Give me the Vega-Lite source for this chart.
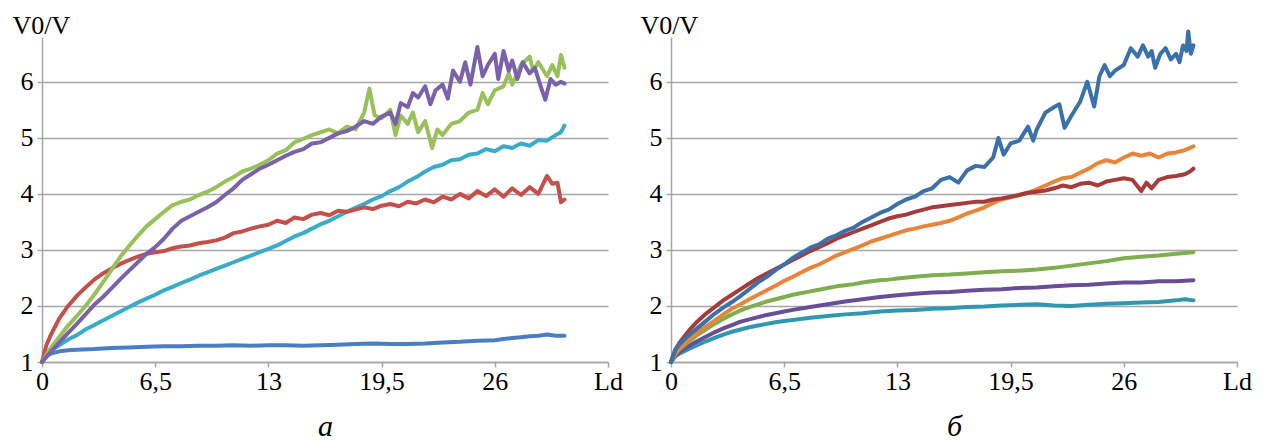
{
"$schema": "https://vega.github.io/schema/vega-lite/v6.json",
"padding": {"left": 12, "top": 12, "right": 5, "bottom": 0},
"background": "white",
"bounds": "flush",
"spacing": 63,
"data": {"values": [
{"p":"a","s":"a1","x":0,"y":1},{"p":"a","s":"a1","x":0.25,"y":1.1},{"p":"a","s":"a1","x":0.5,"y":1.15},{"p":"a","s":"a1","x":1,"y":1.19},{"p":"a","s":"a1","x":1.5,"y":1.21},{"p":"a","s":"a1","x":2,"y":1.22},{"p":"a","s":"a1","x":3,"y":1.23},{"p":"a","s":"a1","x":4,"y":1.25},{"p":"a","s":"a1","x":5,"y":1.26},{"p":"a","s":"a1","x":6,"y":1.27},{"p":"a","s":"a1","x":7,"y":1.28},{"p":"a","s":"a1","x":8,"y":1.28},{"p":"a","s":"a1","x":9,"y":1.29},{"p":"a","s":"a1","x":10,"y":1.29},{"p":"a","s":"a1","x":11,"y":1.3},{"p":"a","s":"a1","x":12,"y":1.29},{"p":"a","s":"a1","x":13,"y":1.3},{"p":"a","s":"a1","x":14,"y":1.3},{"p":"a","s":"a1","x":15,"y":1.29},{"p":"a","s":"a1","x":16,"y":1.3},{"p":"a","s":"a1","x":17,"y":1.31},{"p":"a","s":"a1","x":18,"y":1.32},{"p":"a","s":"a1","x":19,"y":1.33},{"p":"a","s":"a1","x":20,"y":1.32},{"p":"a","s":"a1","x":21,"y":1.32},{"p":"a","s":"a1","x":22,"y":1.33},{"p":"a","s":"a1","x":23,"y":1.35},{"p":"a","s":"a1","x":24,"y":1.36},{"p":"a","s":"a1","x":25,"y":1.38},{"p":"a","s":"a1","x":26,"y":1.39},{"p":"a","s":"a1","x":26.5,"y":1.41},{"p":"a","s":"a1","x":27,"y":1.43},{"p":"a","s":"a1","x":27.5,"y":1.44},{"p":"a","s":"a1","x":28,"y":1.46},{"p":"a","s":"a1","x":28.5,"y":1.47},{"p":"a","s":"a1","x":29,"y":1.49},{"p":"a","s":"a1","x":29.5,"y":1.47},{"p":"a","s":"a1","x":30,"y":1.47},

{"p":"a","s":"a5","x":0,"y":1},{"p":"a","s":"a5","x":0.25,"y":1.12},{"p":"a","s":"a5","x":0.5,"y":1.2},{"p":"a","s":"a5","x":1,"y":1.3},{"p":"a","s":"a5","x":1.5,"y":1.4},{"p":"a","s":"a5","x":2,"y":1.48},{"p":"a","s":"a5","x":2.5,"y":1.58},{"p":"a","s":"a5","x":3,"y":1.66},{"p":"a","s":"a5","x":3.5,"y":1.74},{"p":"a","s":"a5","x":4,"y":1.82},{"p":"a","s":"a5","x":4.5,"y":1.9},{"p":"a","s":"a5","x":5,"y":1.98},{"p":"a","s":"a5","x":5.5,"y":2.06},{"p":"a","s":"a5","x":6,"y":2.13},{"p":"a","s":"a5","x":6.5,"y":2.2},{"p":"a","s":"a5","x":7,"y":2.28},{"p":"a","s":"a5","x":7.5,"y":2.34},{"p":"a","s":"a5","x":8,"y":2.41},{"p":"a","s":"a5","x":8.5,"y":2.47},{"p":"a","s":"a5","x":9,"y":2.54},{"p":"a","s":"a5","x":9.5,"y":2.6},{"p":"a","s":"a5","x":10,"y":2.66},{"p":"a","s":"a5","x":10.5,"y":2.72},{"p":"a","s":"a5","x":11,"y":2.78},{"p":"a","s":"a5","x":11.5,"y":2.84},{"p":"a","s":"a5","x":12,"y":2.9},{"p":"a","s":"a5","x":12.5,"y":2.96},{"p":"a","s":"a5","x":13,"y":3.02},{"p":"a","s":"a5","x":13.5,"y":3.08},{"p":"a","s":"a5","x":14,"y":3.16},{"p":"a","s":"a5","x":14.5,"y":3.24},{"p":"a","s":"a5","x":15,"y":3.3},{"p":"a","s":"a5","x":15.5,"y":3.38},{"p":"a","s":"a5","x":16,"y":3.46},{"p":"a","s":"a5","x":16.5,"y":3.52},{"p":"a","s":"a5","x":17,"y":3.6},{"p":"a","s":"a5","x":17.5,"y":3.68},{"p":"a","s":"a5","x":18,"y":3.75},{"p":"a","s":"a5","x":18.5,"y":3.82},{"p":"a","s":"a5","x":19,"y":3.9},{"p":"a","s":"a5","x":19.5,"y":3.96},{"p":"a","s":"a5","x":20,"y":4.05},{"p":"a","s":"a5","x":20.5,"y":4.12},{"p":"a","s":"a5","x":21,"y":4.22},{"p":"a","s":"a5","x":21.5,"y":4.3},{"p":"a","s":"a5","x":22,"y":4.4},{"p":"a","s":"a5","x":22.5,"y":4.48},{"p":"a","s":"a5","x":23,"y":4.52},{"p":"a","s":"a5","x":23.5,"y":4.6},{"p":"a","s":"a5","x":24,"y":4.62},{"p":"a","s":"a5","x":24.5,"y":4.7},{"p":"a","s":"a5","x":25,"y":4.72},{"p":"a","s":"a5","x":25.5,"y":4.8},{"p":"a","s":"a5","x":26,"y":4.76},{"p":"a","s":"a5","x":26.5,"y":4.85},{"p":"a","s":"a5","x":27,"y":4.82},{"p":"a","s":"a5","x":27.5,"y":4.9},{"p":"a","s":"a5","x":28,"y":4.86},{"p":"a","s":"a5","x":28.5,"y":4.96},{"p":"a","s":"a5","x":29,"y":4.95},{"p":"a","s":"a5","x":29.5,"y":5.05},{"p":"a","s":"a5","x":29.8,"y":5.1},{"p":"a","s":"a5","x":30,"y":5.22},

{"p":"a","s":"a2","x":0,"y":1},{"p":"a","s":"a2","x":0.25,"y":1.3},{"p":"a","s":"a2","x":0.5,"y":1.48},{"p":"a","s":"a2","x":1,"y":1.78},{"p":"a","s":"a2","x":1.5,"y":2.0},{"p":"a","s":"a2","x":2,"y":2.18},{"p":"a","s":"a2","x":2.5,"y":2.33},{"p":"a","s":"a2","x":3,"y":2.47},{"p":"a","s":"a2","x":3.5,"y":2.58},{"p":"a","s":"a2","x":4,"y":2.67},{"p":"a","s":"a2","x":4.5,"y":2.75},{"p":"a","s":"a2","x":5,"y":2.82},{"p":"a","s":"a2","x":5.5,"y":2.88},{"p":"a","s":"a2","x":6,"y":2.93},{"p":"a","s":"a2","x":6.5,"y":2.96},{"p":"a","s":"a2","x":7,"y":2.98},{"p":"a","s":"a2","x":7.5,"y":3.03},{"p":"a","s":"a2","x":8,"y":3.06},{"p":"a","s":"a2","x":8.5,"y":3.08},{"p":"a","s":"a2","x":9,"y":3.12},{"p":"a","s":"a2","x":9.5,"y":3.14},{"p":"a","s":"a2","x":10,"y":3.17},{"p":"a","s":"a2","x":10.5,"y":3.22},{"p":"a","s":"a2","x":11,"y":3.3},{"p":"a","s":"a2","x":11.5,"y":3.33},{"p":"a","s":"a2","x":12,"y":3.38},{"p":"a","s":"a2","x":12.5,"y":3.42},{"p":"a","s":"a2","x":13,"y":3.45},{"p":"a","s":"a2","x":13.5,"y":3.52},{"p":"a","s":"a2","x":14,"y":3.48},{"p":"a","s":"a2","x":14.5,"y":3.58},{"p":"a","s":"a2","x":15,"y":3.55},{"p":"a","s":"a2","x":15.5,"y":3.63},{"p":"a","s":"a2","x":16,"y":3.66},{"p":"a","s":"a2","x":16.5,"y":3.62},{"p":"a","s":"a2","x":17,"y":3.7},{"p":"a","s":"a2","x":17.5,"y":3.68},{"p":"a","s":"a2","x":18,"y":3.72},{"p":"a","s":"a2","x":18.5,"y":3.76},{"p":"a","s":"a2","x":19,"y":3.73},{"p":"a","s":"a2","x":19.5,"y":3.79},{"p":"a","s":"a2","x":20,"y":3.82},{"p":"a","s":"a2","x":20.5,"y":3.78},{"p":"a","s":"a2","x":21,"y":3.86},{"p":"a","s":"a2","x":21.5,"y":3.83},{"p":"a","s":"a2","x":22,"y":3.9},{"p":"a","s":"a2","x":22.5,"y":3.85},{"p":"a","s":"a2","x":23,"y":3.95},{"p":"a","s":"a2","x":23.5,"y":3.9},{"p":"a","s":"a2","x":24,"y":4.0},{"p":"a","s":"a2","x":24.5,"y":3.92},{"p":"a","s":"a2","x":25,"y":4.05},{"p":"a","s":"a2","x":25.5,"y":3.96},{"p":"a","s":"a2","x":26,"y":4.08},{"p":"a","s":"a2","x":26.5,"y":3.95},{"p":"a","s":"a2","x":27,"y":4.1},{"p":"a","s":"a2","x":27.5,"y":3.98},{"p":"a","s":"a2","x":28,"y":4.12},{"p":"a","s":"a2","x":28.5,"y":4.0},{"p":"a","s":"a2","x":29,"y":4.32},{"p":"a","s":"a2","x":29.3,"y":4.18},{"p":"a","s":"a2","x":29.6,"y":4.2},{"p":"a","s":"a2","x":29.8,"y":3.85},{"p":"a","s":"a2","x":30,"y":3.9},

{"p":"a","s":"a3","x":0,"y":1},{"p":"a","s":"a3","x":0.5,"y":1.25},{"p":"a","s":"a3","x":1,"y":1.45},{"p":"a","s":"a3","x":1.5,"y":1.65},{"p":"a","s":"a3","x":2,"y":1.82},{"p":"a","s":"a3","x":2.5,"y":2.0},{"p":"a","s":"a3","x":3,"y":2.2},{"p":"a","s":"a3","x":3.5,"y":2.42},{"p":"a","s":"a3","x":4,"y":2.65},{"p":"a","s":"a3","x":4.5,"y":2.88},{"p":"a","s":"a3","x":5,"y":3.07},{"p":"a","s":"a3","x":5.5,"y":3.25},{"p":"a","s":"a3","x":6,"y":3.42},{"p":"a","s":"a3","x":6.5,"y":3.55},{"p":"a","s":"a3","x":7,"y":3.68},{"p":"a","s":"a3","x":7.5,"y":3.8},{"p":"a","s":"a3","x":8,"y":3.86},{"p":"a","s":"a3","x":8.5,"y":3.9},{"p":"a","s":"a3","x":9,"y":3.98},{"p":"a","s":"a3","x":9.5,"y":4.04},{"p":"a","s":"a3","x":10,"y":4.12},{"p":"a","s":"a3","x":10.5,"y":4.22},{"p":"a","s":"a3","x":11,"y":4.3},{"p":"a","s":"a3","x":11.5,"y":4.4},{"p":"a","s":"a3","x":12,"y":4.45},{"p":"a","s":"a3","x":12.5,"y":4.52},{"p":"a","s":"a3","x":13,"y":4.6},{"p":"a","s":"a3","x":13.5,"y":4.72},{"p":"a","s":"a3","x":14,"y":4.78},{"p":"a","s":"a3","x":14.5,"y":4.92},{"p":"a","s":"a3","x":15,"y":4.98},{"p":"a","s":"a3","x":15.5,"y":5.05},{"p":"a","s":"a3","x":16,"y":5.1},{"p":"a","s":"a3","x":16.5,"y":5.15},{"p":"a","s":"a3","x":17,"y":5.08},{"p":"a","s":"a3","x":17.5,"y":5.2},{"p":"a","s":"a3","x":18,"y":5.15},{"p":"a","s":"a3","x":18.5,"y":5.45},{"p":"a","s":"a3","x":18.8,"y":5.88},{"p":"a","s":"a3","x":19.1,"y":5.4},{"p":"a","s":"a3","x":19.5,"y":5.35},{"p":"a","s":"a3","x":20,"y":5.5},{"p":"a","s":"a3","x":20.3,"y":5.05},{"p":"a","s":"a3","x":20.6,"y":5.4},{"p":"a","s":"a3","x":21,"y":5.25},{"p":"a","s":"a3","x":21.3,"y":5.45},{"p":"a","s":"a3","x":21.6,"y":5.1},{"p":"a","s":"a3","x":22,"y":5.3},{"p":"a","s":"a3","x":22.4,"y":4.82},{"p":"a","s":"a3","x":22.7,"y":5.15},{"p":"a","s":"a3","x":23,"y":5.05},{"p":"a","s":"a3","x":23.5,"y":5.25},{"p":"a","s":"a3","x":24,"y":5.3},{"p":"a","s":"a3","x":24.5,"y":5.45},{"p":"a","s":"a3","x":25,"y":5.5},{"p":"a","s":"a3","x":25.3,"y":5.8},{"p":"a","s":"a3","x":25.6,"y":5.6},{"p":"a","s":"a3","x":26,"y":5.85},{"p":"a","s":"a3","x":26.5,"y":5.92},{"p":"a","s":"a3","x":26.8,"y":6.15},{"p":"a","s":"a3","x":27,"y":5.95},{"p":"a","s":"a3","x":27.5,"y":6.3},{"p":"a","s":"a3","x":28,"y":6.45},{"p":"a","s":"a3","x":28.2,"y":6.2},{"p":"a","s":"a3","x":28.5,"y":6.35},{"p":"a","s":"a3","x":29,"y":6.1},{"p":"a","s":"a3","x":29.3,"y":6.3},{"p":"a","s":"a3","x":29.6,"y":6.1},{"p":"a","s":"a3","x":29.8,"y":6.48},{"p":"a","s":"a3","x":30,"y":6.25},

{"p":"a","s":"a4","x":0,"y":1},{"p":"a","s":"a4","x":0.5,"y":1.18},{"p":"a","s":"a4","x":1,"y":1.35},{"p":"a","s":"a4","x":1.5,"y":1.52},{"p":"a","s":"a4","x":2,"y":1.68},{"p":"a","s":"a4","x":2.5,"y":1.85},{"p":"a","s":"a4","x":3,"y":2.02},{"p":"a","s":"a4","x":3.5,"y":2.16},{"p":"a","s":"a4","x":4,"y":2.32},{"p":"a","s":"a4","x":4.5,"y":2.48},{"p":"a","s":"a4","x":5,"y":2.63},{"p":"a","s":"a4","x":5.5,"y":2.78},{"p":"a","s":"a4","x":6,"y":2.93},{"p":"a","s":"a4","x":6.5,"y":3.05},{"p":"a","s":"a4","x":7,"y":3.2},{"p":"a","s":"a4","x":7.5,"y":3.38},{"p":"a","s":"a4","x":8,"y":3.52},{"p":"a","s":"a4","x":8.5,"y":3.6},{"p":"a","s":"a4","x":9,"y":3.68},{"p":"a","s":"a4","x":9.5,"y":3.76},{"p":"a","s":"a4","x":10,"y":3.85},{"p":"a","s":"a4","x":10.5,"y":3.98},{"p":"a","s":"a4","x":11,"y":4.1},{"p":"a","s":"a4","x":11.5,"y":4.25},{"p":"a","s":"a4","x":12,"y":4.35},{"p":"a","s":"a4","x":12.5,"y":4.45},{"p":"a","s":"a4","x":13,"y":4.52},{"p":"a","s":"a4","x":13.5,"y":4.6},{"p":"a","s":"a4","x":14,"y":4.68},{"p":"a","s":"a4","x":14.5,"y":4.75},{"p":"a","s":"a4","x":15,"y":4.8},{"p":"a","s":"a4","x":15.5,"y":4.9},{"p":"a","s":"a4","x":16,"y":4.92},{"p":"a","s":"a4","x":16.5,"y":5.0},{"p":"a","s":"a4","x":17,"y":5.08},{"p":"a","s":"a4","x":17.5,"y":5.12},{"p":"a","s":"a4","x":18,"y":5.2},{"p":"a","s":"a4","x":18.5,"y":5.3},{"p":"a","s":"a4","x":19,"y":5.25},{"p":"a","s":"a4","x":19.5,"y":5.38},{"p":"a","s":"a4","x":20,"y":5.45},{"p":"a","s":"a4","x":20.3,"y":5.25},{"p":"a","s":"a4","x":20.6,"y":5.62},{"p":"a","s":"a4","x":21,"y":5.55},{"p":"a","s":"a4","x":21.3,"y":5.8},{"p":"a","s":"a4","x":21.6,"y":5.72},{"p":"a","s":"a4","x":22,"y":5.92},{"p":"a","s":"a4","x":22.3,"y":5.6},{"p":"a","s":"a4","x":22.6,"y":5.85},{"p":"a","s":"a4","x":23,"y":5.95},{"p":"a","s":"a4","x":23.3,"y":5.7},{"p":"a","s":"a4","x":23.6,"y":6.2},{"p":"a","s":"a4","x":24,"y":6.0},{"p":"a","s":"a4","x":24.3,"y":6.35},{"p":"a","s":"a4","x":24.6,"y":5.95},{"p":"a","s":"a4","x":25,"y":6.62},{"p":"a","s":"a4","x":25.3,"y":6.1},{"p":"a","s":"a4","x":25.6,"y":6.3},{"p":"a","s":"a4","x":26,"y":6.5},{"p":"a","s":"a4","x":26.2,"y":6.05},{"p":"a","s":"a4","x":26.5,"y":6.55},{"p":"a","s":"a4","x":26.8,"y":6.2},{"p":"a","s":"a4","x":27,"y":6.38},{"p":"a","s":"a4","x":27.3,"y":6.05},{"p":"a","s":"a4","x":27.6,"y":6.35},{"p":"a","s":"a4","x":28,"y":6.15},{"p":"a","s":"a4","x":28.3,"y":6.25},{"p":"a","s":"a4","x":28.6,"y":5.95},{"p":"a","s":"a4","x":28.9,"y":5.68},{"p":"a","s":"a4","x":29.2,"y":6.05},{"p":"a","s":"a4","x":29.5,"y":5.95},{"p":"a","s":"a4","x":29.8,"y":6.0},{"p":"a","s":"a4","x":30,"y":5.97},

{"p":"b","s":"b6","x":0,"y":1},{"p":"b","s":"b6","x":0.25,"y":1.1},{"p":"b","s":"b6","x":0.5,"y":1.15},{"p":"b","s":"b6","x":1,"y":1.23},{"p":"b","s":"b6","x":1.5,"y":1.3},{"p":"b","s":"b6","x":2,"y":1.37},{"p":"b","s":"b6","x":2.5,"y":1.43},{"p":"b","s":"b6","x":3,"y":1.49},{"p":"b","s":"b6","x":3.5,"y":1.54},{"p":"b","s":"b6","x":4,"y":1.58},{"p":"b","s":"b6","x":4.5,"y":1.62},{"p":"b","s":"b6","x":5,"y":1.65},{"p":"b","s":"b6","x":5.5,"y":1.68},{"p":"b","s":"b6","x":6,"y":1.71},{"p":"b","s":"b6","x":6.5,"y":1.73},{"p":"b","s":"b6","x":7,"y":1.75},{"p":"b","s":"b6","x":8,"y":1.79},{"p":"b","s":"b6","x":9,"y":1.82},{"p":"b","s":"b6","x":10,"y":1.85},{"p":"b","s":"b6","x":11,"y":1.87},{"p":"b","s":"b6","x":12,"y":1.9},{"p":"b","s":"b6","x":13,"y":1.92},{"p":"b","s":"b6","x":14,"y":1.93},{"p":"b","s":"b6","x":15,"y":1.95},{"p":"b","s":"b6","x":16,"y":1.96},{"p":"b","s":"b6","x":17,"y":1.98},{"p":"b","s":"b6","x":18,"y":1.99},{"p":"b","s":"b6","x":19,"y":2.01},{"p":"b","s":"b6","x":20,"y":2.02},{"p":"b","s":"b6","x":21,"y":2.03},{"p":"b","s":"b6","x":22,"y":2.01},{"p":"b","s":"b6","x":23,"y":2.0},{"p":"b","s":"b6","x":24,"y":2.02},{"p":"b","s":"b6","x":25,"y":2.04},{"p":"b","s":"b6","x":26,"y":2.05},{"p":"b","s":"b6","x":27,"y":2.06},{"p":"b","s":"b6","x":28,"y":2.07},{"p":"b","s":"b6","x":29,"y":2.1},{"p":"b","s":"b6","x":29.5,"y":2.12},{"p":"b","s":"b6","x":30,"y":2.1},

{"p":"b","s":"b5","x":0,"y":1},{"p":"b","s":"b5","x":0.25,"y":1.12},{"p":"b","s":"b5","x":0.5,"y":1.18},{"p":"b","s":"b5","x":1,"y":1.28},{"p":"b","s":"b5","x":1.5,"y":1.37},{"p":"b","s":"b5","x":2,"y":1.45},{"p":"b","s":"b5","x":2.5,"y":1.53},{"p":"b","s":"b5","x":3,"y":1.6},{"p":"b","s":"b5","x":3.5,"y":1.66},{"p":"b","s":"b5","x":4,"y":1.72},{"p":"b","s":"b5","x":4.5,"y":1.76},{"p":"b","s":"b5","x":5,"y":1.8},{"p":"b","s":"b5","x":5.5,"y":1.84},{"p":"b","s":"b5","x":6,"y":1.87},{"p":"b","s":"b5","x":6.5,"y":1.9},{"p":"b","s":"b5","x":7,"y":1.93},{"p":"b","s":"b5","x":8,"y":1.98},{"p":"b","s":"b5","x":9,"y":2.03},{"p":"b","s":"b5","x":10,"y":2.08},{"p":"b","s":"b5","x":11,"y":2.12},{"p":"b","s":"b5","x":12,"y":2.16},{"p":"b","s":"b5","x":13,"y":2.19},{"p":"b","s":"b5","x":14,"y":2.22},{"p":"b","s":"b5","x":15,"y":2.24},{"p":"b","s":"b5","x":16,"y":2.25},{"p":"b","s":"b5","x":17,"y":2.27},{"p":"b","s":"b5","x":18,"y":2.29},{"p":"b","s":"b5","x":19,"y":2.3},{"p":"b","s":"b5","x":20,"y":2.32},{"p":"b","s":"b5","x":21,"y":2.33},{"p":"b","s":"b5","x":22,"y":2.35},{"p":"b","s":"b5","x":23,"y":2.37},{"p":"b","s":"b5","x":24,"y":2.38},{"p":"b","s":"b5","x":25,"y":2.4},{"p":"b","s":"b5","x":26,"y":2.42},{"p":"b","s":"b5","x":27,"y":2.42},{"p":"b","s":"b5","x":28,"y":2.44},{"p":"b","s":"b5","x":29,"y":2.44},{"p":"b","s":"b5","x":30,"y":2.46},

{"p":"b","s":"b4","x":0,"y":1},{"p":"b","s":"b4","x":0.25,"y":1.15},{"p":"b","s":"b4","x":0.5,"y":1.23},{"p":"b","s":"b4","x":1,"y":1.36},{"p":"b","s":"b4","x":1.5,"y":1.48},{"p":"b","s":"b4","x":2,"y":1.58},{"p":"b","s":"b4","x":2.5,"y":1.68},{"p":"b","s":"b4","x":3,"y":1.77},{"p":"b","s":"b4","x":3.5,"y":1.85},{"p":"b","s":"b4","x":4,"y":1.92},{"p":"b","s":"b4","x":4.5,"y":1.98},{"p":"b","s":"b4","x":5,"y":2.03},{"p":"b","s":"b4","x":5.5,"y":2.08},{"p":"b","s":"b4","x":6,"y":2.12},{"p":"b","s":"b4","x":6.5,"y":2.16},{"p":"b","s":"b4","x":7,"y":2.2},{"p":"b","s":"b4","x":7.5,"y":2.23},{"p":"b","s":"b4","x":8,"y":2.26},{"p":"b","s":"b4","x":8.5,"y":2.29},{"p":"b","s":"b4","x":9,"y":2.32},{"p":"b","s":"b4","x":9.5,"y":2.35},{"p":"b","s":"b4","x":10,"y":2.37},{"p":"b","s":"b4","x":10.5,"y":2.39},{"p":"b","s":"b4","x":11,"y":2.42},{"p":"b","s":"b4","x":11.5,"y":2.44},{"p":"b","s":"b4","x":12,"y":2.46},{"p":"b","s":"b4","x":12.5,"y":2.47},{"p":"b","s":"b4","x":13,"y":2.49},{"p":"b","s":"b4","x":14,"y":2.52},{"p":"b","s":"b4","x":15,"y":2.55},{"p":"b","s":"b4","x":16,"y":2.56},{"p":"b","s":"b4","x":17,"y":2.58},{"p":"b","s":"b4","x":18,"y":2.6},{"p":"b","s":"b4","x":19,"y":2.62},{"p":"b","s":"b4","x":20,"y":2.63},{"p":"b","s":"b4","x":21,"y":2.65},{"p":"b","s":"b4","x":22,"y":2.68},{"p":"b","s":"b4","x":23,"y":2.72},{"p":"b","s":"b4","x":24,"y":2.76},{"p":"b","s":"b4","x":25,"y":2.8},{"p":"b","s":"b4","x":26,"y":2.85},{"p":"b","s":"b4","x":27,"y":2.88},{"p":"b","s":"b4","x":28,"y":2.9},{"p":"b","s":"b4","x":29,"y":2.93},{"p":"b","s":"b4","x":30,"y":2.96},

{"p":"b","s":"b3","x":0,"y":1},{"p":"b","s":"b3","x":0.25,"y":1.15},{"p":"b","s":"b3","x":0.5,"y":1.25},{"p":"b","s":"b3","x":1,"y":1.4},{"p":"b","s":"b3","x":1.5,"y":1.52},{"p":"b","s":"b3","x":2,"y":1.63},{"p":"b","s":"b3","x":2.5,"y":1.74},{"p":"b","s":"b3","x":3,"y":1.85},{"p":"b","s":"b3","x":3.5,"y":1.95},{"p":"b","s":"b3","x":4,"y":2.03},{"p":"b","s":"b3","x":4.5,"y":2.12},{"p":"b","s":"b3","x":5,"y":2.2},{"p":"b","s":"b3","x":5.5,"y":2.28},{"p":"b","s":"b3","x":6,"y":2.36},{"p":"b","s":"b3","x":6.5,"y":2.45},{"p":"b","s":"b3","x":7,"y":2.52},{"p":"b","s":"b3","x":7.5,"y":2.6},{"p":"b","s":"b3","x":8,"y":2.68},{"p":"b","s":"b3","x":8.5,"y":2.74},{"p":"b","s":"b3","x":9,"y":2.82},{"p":"b","s":"b3","x":9.5,"y":2.9},{"p":"b","s":"b3","x":10,"y":2.96},{"p":"b","s":"b3","x":10.5,"y":3.02},{"p":"b","s":"b3","x":11,"y":3.08},{"p":"b","s":"b3","x":11.5,"y":3.15},{"p":"b","s":"b3","x":12,"y":3.2},{"p":"b","s":"b3","x":12.5,"y":3.25},{"p":"b","s":"b3","x":13,"y":3.3},{"p":"b","s":"b3","x":13.5,"y":3.35},{"p":"b","s":"b3","x":14,"y":3.38},{"p":"b","s":"b3","x":14.5,"y":3.42},{"p":"b","s":"b3","x":15,"y":3.45},{"p":"b","s":"b3","x":15.5,"y":3.48},{"p":"b","s":"b3","x":16,"y":3.52},{"p":"b","s":"b3","x":16.5,"y":3.58},{"p":"b","s":"b3","x":17,"y":3.65},{"p":"b","s":"b3","x":17.5,"y":3.7},{"p":"b","s":"b3","x":18,"y":3.76},{"p":"b","s":"b3","x":18.5,"y":3.84},{"p":"b","s":"b3","x":19,"y":3.9},{"p":"b","s":"b3","x":19.5,"y":3.94},{"p":"b","s":"b3","x":20,"y":3.98},{"p":"b","s":"b3","x":20.5,"y":4.02},{"p":"b","s":"b3","x":21,"y":4.08},{"p":"b","s":"b3","x":21.5,"y":4.15},{"p":"b","s":"b3","x":22,"y":4.22},{"p":"b","s":"b3","x":22.5,"y":4.28},{"p":"b","s":"b3","x":23,"y":4.3},{"p":"b","s":"b3","x":23.5,"y":4.38},{"p":"b","s":"b3","x":24,"y":4.45},{"p":"b","s":"b3","x":24.5,"y":4.55},{"p":"b","s":"b3","x":25,"y":4.6},{"p":"b","s":"b3","x":25.5,"y":4.56},{"p":"b","s":"b3","x":26,"y":4.65},{"p":"b","s":"b3","x":26.5,"y":4.72},{"p":"b","s":"b3","x":27,"y":4.68},{"p":"b","s":"b3","x":27.5,"y":4.72},{"p":"b","s":"b3","x":28,"y":4.65},{"p":"b","s":"b3","x":28.5,"y":4.72},{"p":"b","s":"b3","x":29,"y":4.74},{"p":"b","s":"b3","x":29.5,"y":4.78},{"p":"b","s":"b3","x":29.8,"y":4.82},{"p":"b","s":"b3","x":30,"y":4.85},

{"p":"b","s":"b2","x":0,"y":1},{"p":"b","s":"b2","x":0.25,"y":1.22},{"p":"b","s":"b2","x":0.5,"y":1.35},{"p":"b","s":"b2","x":1,"y":1.55},{"p":"b","s":"b2","x":1.5,"y":1.72},{"p":"b","s":"b2","x":2,"y":1.86},{"p":"b","s":"b2","x":2.5,"y":1.98},{"p":"b","s":"b2","x":3,"y":2.1},{"p":"b","s":"b2","x":3.5,"y":2.2},{"p":"b","s":"b2","x":4,"y":2.3},{"p":"b","s":"b2","x":4.5,"y":2.4},{"p":"b","s":"b2","x":5,"y":2.5},{"p":"b","s":"b2","x":5.5,"y":2.58},{"p":"b","s":"b2","x":6,"y":2.66},{"p":"b","s":"b2","x":6.5,"y":2.74},{"p":"b","s":"b2","x":7,"y":2.82},{"p":"b","s":"b2","x":7.5,"y":2.9},{"p":"b","s":"b2","x":8,"y":2.98},{"p":"b","s":"b2","x":8.5,"y":3.05},{"p":"b","s":"b2","x":9,"y":3.12},{"p":"b","s":"b2","x":9.5,"y":3.2},{"p":"b","s":"b2","x":10,"y":3.26},{"p":"b","s":"b2","x":10.5,"y":3.32},{"p":"b","s":"b2","x":11,"y":3.38},{"p":"b","s":"b2","x":11.5,"y":3.44},{"p":"b","s":"b2","x":12,"y":3.5},{"p":"b","s":"b2","x":12.5,"y":3.56},{"p":"b","s":"b2","x":13,"y":3.6},{"p":"b","s":"b2","x":13.5,"y":3.63},{"p":"b","s":"b2","x":14,"y":3.68},{"p":"b","s":"b2","x":14.5,"y":3.72},{"p":"b","s":"b2","x":15,"y":3.76},{"p":"b","s":"b2","x":15.5,"y":3.78},{"p":"b","s":"b2","x":16,"y":3.8},{"p":"b","s":"b2","x":16.5,"y":3.82},{"p":"b","s":"b2","x":17,"y":3.84},{"p":"b","s":"b2","x":17.5,"y":3.86},{"p":"b","s":"b2","x":18,"y":3.86},{"p":"b","s":"b2","x":18.5,"y":3.9},{"p":"b","s":"b2","x":19,"y":3.92},{"p":"b","s":"b2","x":19.5,"y":3.95},{"p":"b","s":"b2","x":20,"y":3.98},{"p":"b","s":"b2","x":20.5,"y":4.02},{"p":"b","s":"b2","x":21,"y":4.04},{"p":"b","s":"b2","x":21.5,"y":4.06},{"p":"b","s":"b2","x":22,"y":4.1},{"p":"b","s":"b2","x":22.5,"y":4.15},{"p":"b","s":"b2","x":23,"y":4.12},{"p":"b","s":"b2","x":23.5,"y":4.18},{"p":"b","s":"b2","x":24,"y":4.2},{"p":"b","s":"b2","x":24.5,"y":4.15},{"p":"b","s":"b2","x":25,"y":4.22},{"p":"b","s":"b2","x":25.5,"y":4.25},{"p":"b","s":"b2","x":26,"y":4.28},{"p":"b","s":"b2","x":26.5,"y":4.25},{"p":"b","s":"b2","x":27,"y":4.05},{"p":"b","s":"b2","x":27.3,"y":4.2},{"p":"b","s":"b2","x":27.6,"y":4.1},{"p":"b","s":"b2","x":28,"y":4.25},{"p":"b","s":"b2","x":28.5,"y":4.3},{"p":"b","s":"b2","x":29,"y":4.32},{"p":"b","s":"b2","x":29.5,"y":4.35},{"p":"b","s":"b2","x":29.8,"y":4.4},{"p":"b","s":"b2","x":30,"y":4.45},

{"p":"b","s":"b1","x":0,"y":1},{"p":"b","s":"b1","x":0.25,"y":1.22},{"p":"b","s":"b1","x":0.5,"y":1.32},{"p":"b","s":"b1","x":1,"y":1.47},{"p":"b","s":"b1","x":1.5,"y":1.6},{"p":"b","s":"b1","x":2,"y":1.73},{"p":"b","s":"b1","x":2.5,"y":1.86},{"p":"b","s":"b1","x":3,"y":1.97},{"p":"b","s":"b1","x":3.5,"y":2.07},{"p":"b","s":"b1","x":4,"y":2.18},{"p":"b","s":"b1","x":4.5,"y":2.3},{"p":"b","s":"b1","x":5,"y":2.42},{"p":"b","s":"b1","x":5.5,"y":2.52},{"p":"b","s":"b1","x":6,"y":2.64},{"p":"b","s":"b1","x":6.5,"y":2.74},{"p":"b","s":"b1","x":7,"y":2.86},{"p":"b","s":"b1","x":7.5,"y":2.95},{"p":"b","s":"b1","x":8,"y":3.04},{"p":"b","s":"b1","x":8.5,"y":3.1},{"p":"b","s":"b1","x":9,"y":3.2},{"p":"b","s":"b1","x":9.5,"y":3.26},{"p":"b","s":"b1","x":10,"y":3.34},{"p":"b","s":"b1","x":10.5,"y":3.4},{"p":"b","s":"b1","x":11,"y":3.5},{"p":"b","s":"b1","x":11.5,"y":3.58},{"p":"b","s":"b1","x":12,"y":3.66},{"p":"b","s":"b1","x":12.5,"y":3.72},{"p":"b","s":"b1","x":13,"y":3.82},{"p":"b","s":"b1","x":13.5,"y":3.9},{"p":"b","s":"b1","x":14,"y":3.95},{"p":"b","s":"b1","x":14.5,"y":4.05},{"p":"b","s":"b1","x":15,"y":4.1},{"p":"b","s":"b1","x":15.5,"y":4.25},{"p":"b","s":"b1","x":16,"y":4.3},{"p":"b","s":"b1","x":16.5,"y":4.2},{"p":"b","s":"b1","x":17,"y":4.42},{"p":"b","s":"b1","x":17.5,"y":4.5},{"p":"b","s":"b1","x":18,"y":4.48},{"p":"b","s":"b1","x":18.5,"y":4.65},{"p":"b","s":"b1","x":18.8,"y":5.0},{"p":"b","s":"b1","x":19.1,"y":4.7},{"p":"b","s":"b1","x":19.5,"y":4.9},{"p":"b","s":"b1","x":20,"y":4.95},{"p":"b","s":"b1","x":20.5,"y":5.2},{"p":"b","s":"b1","x":20.8,"y":4.95},{"p":"b","s":"b1","x":21,"y":5.15},{"p":"b","s":"b1","x":21.5,"y":5.45},{"p":"b","s":"b1","x":22,"y":5.55},{"p":"b","s":"b1","x":22.3,"y":5.6},{"p":"b","s":"b1","x":22.6,"y":5.18},{"p":"b","s":"b1","x":23,"y":5.4},{"p":"b","s":"b1","x":23.5,"y":5.65},{"p":"b","s":"b1","x":23.9,"y":6.0},{"p":"b","s":"b1","x":24.3,"y":5.56},{"p":"b","s":"b1","x":24.6,"y":6.1},{"p":"b","s":"b1","x":24.9,"y":6.3},{"p":"b","s":"b1","x":25.2,"y":6.1},{"p":"b","s":"b1","x":25.5,"y":6.2},{"p":"b","s":"b1","x":26,"y":6.3},{"p":"b","s":"b1","x":26.4,"y":6.6},{"p":"b","s":"b1","x":26.8,"y":6.45},{"p":"b","s":"b1","x":27.1,"y":6.65},{"p":"b","s":"b1","x":27.4,"y":6.45},{"p":"b","s":"b1","x":27.6,"y":6.55},{"p":"b","s":"b1","x":27.8,"y":6.25},{"p":"b","s":"b1","x":28.1,"y":6.5},{"p":"b","s":"b1","x":28.4,"y":6.6},{"p":"b","s":"b1","x":28.7,"y":6.4},{"p":"b","s":"b1","x":29,"y":6.5},{"p":"b","s":"b1","x":29.2,"y":6.35},{"p":"b","s":"b1","x":29.4,"y":6.65},{"p":"b","s":"b1","x":29.6,"y":6.55},{"p":"b","s":"b1","x":29.7,"y":6.9},{"p":"b","s":"b1","x":29.85,"y":6.5},{"p":"b","s":"b1","x":30,"y":6.65}
]},
"hconcat": [
{
"width": 566, "height": 325,
"transform": [{"filter": "datum.p == 'a'"}],
"mark": {"type": "line", "strokeWidth": 4, "clip": false, "strokeJoin": "round", "strokeCap": "round"},
"encoding": {
"x": {"field": "x", "type": "quantitative", "scale": {"domain": [0, 32.5], "nice": false, "zero": false},
"axis": {"title": "а", "values": [0, 6.5, 13, 19.5, 26, 32.5], "format": ".1~f",
"labelExpr": "datum.value == 32.5 ? 'Ld' : replace(datum.label, '.', ',')",
"grid": false, "domainColor": "#a6a6a6", "domainWidth": 1.5, "tickColor": "#a6a6a6", "tickWidth": 1.5, "tickSize": 5,
"labelFont": "Liberation Serif", "labelFontSize": 26, "labelColor": "#000000", "labelPadding": 1, "labelFlush": false, "labelOverlap": false,
"titleFont": "Liberation Serif", "titleFontSize": 30, "titleFontStyle": "italic", "titleFontWeight": "normal", "titleColor": "#000000", "titlePadding": 17}},
"y": {"field": "y", "type": "quantitative", "scale": {"domain": [1, 6.8], "nice": false, "zero": false},
"axis": {"title": "V0/V", "values": [1, 2, 3, 4, 5, 6], "format": "d",
"grid": true, "gridColor": "#a6a6a6", "gridWidth": 1.5, "domainColor": "#a6a6a6", "domainWidth": 1.5, "tickColor": "#a6a6a6", "tickWidth": 1.5, "tickSize": 5,
"labelFont": "Liberation Serif", "labelFontSize": 26, "labelColor": "#000000", "labelPadding": 4, "labelFlush": false, "labelOverlap": false,
"titleFont": "Liberation Serif", "titleFontSize": 26, "titleFontWeight": "normal", "titleColor": "#000000",
"titleAngle": 0, "titleAlign": "left", "titleBaseline": "alphabetic", "titleX": -30, "titleY": -4}},
"color": {"field": "s", "type": "nominal", "legend": null, "sort": ["a1","a5","a2","a3","a4"],
"scale": {"domain": ["a1","a5","a2","a3","a4"], "range": ["#4a7ec4","#3aacc8","#c4504b","#98c15b","#7a62aa"]}}
}
},
{
"width": 566, "height": 325,
"transform": [{"filter": "datum.p == 'b'"}],
"mark": {"type": "line", "strokeWidth": 4, "clip": false, "strokeJoin": "round", "strokeCap": "round"},
"encoding": {
"x": {"field": "x", "type": "quantitative", "scale": {"domain": [0, 32.5], "nice": false, "zero": false},
"axis": {"title": "б", "values": [0, 6.5, 13, 19.5, 26, 32.5], "format": ".1~f",
"labelExpr": "datum.value == 32.5 ? 'Ld' : replace(datum.label, '.', ',')",
"grid": false, "domainColor": "#a6a6a6", "domainWidth": 1.5, "tickColor": "#a6a6a6", "tickWidth": 1.5, "tickSize": 5,
"labelFont": "Liberation Serif", "labelFontSize": 26, "labelColor": "#000000", "labelPadding": 1, "labelFlush": false, "labelOverlap": false,
"titleFont": "Liberation Serif", "titleFontSize": 30, "titleFontStyle": "italic", "titleFontWeight": "normal", "titleColor": "#000000", "titlePadding": 17}},
"y": {"field": "y", "type": "quantitative", "scale": {"domain": [1, 6.8], "nice": false, "zero": false},
"axis": {"title": "V0/V", "values": [1, 2, 3, 4, 5, 6], "format": "d",
"grid": true, "gridColor": "#a6a6a6", "gridWidth": 1.5, "domainColor": "#a6a6a6", "domainWidth": 1.5, "tickColor": "#a6a6a6", "tickWidth": 1.5, "tickSize": 5,
"labelFont": "Liberation Serif", "labelFontSize": 26, "labelColor": "#000000", "labelPadding": 4, "labelFlush": false, "labelOverlap": false,
"titleFont": "Liberation Serif", "titleFontSize": 26, "titleFontWeight": "normal", "titleColor": "#000000",
"titleAngle": 0, "titleAlign": "left", "titleBaseline": "alphabetic", "titleX": -31, "titleY": -4}},
"color": {"field": "s", "type": "nominal", "legend": null, "sort": ["b6","b5","b4","b3","b2","b1"],
"scale": {"domain": ["b6","b5","b4","b3","b2","b1"], "range": ["#2f97b0","#6a4d97","#7eae4e","#e9853a","#a53b3b","#3b71aa"]}}
}
}
],
"resolve": {"scale": {"color": "independent"}},
"config": {"view": {"stroke": null}}
}
